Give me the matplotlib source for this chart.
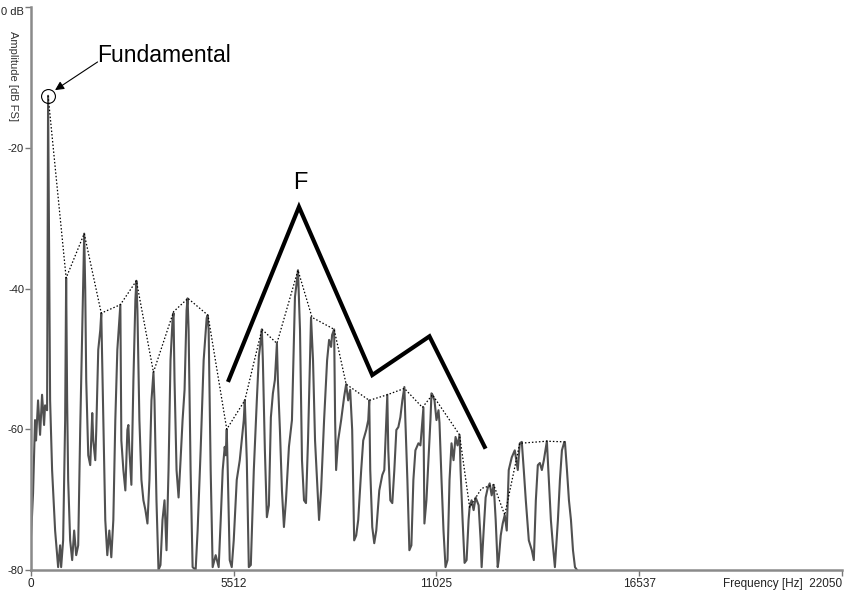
import numpy as np
import matplotlib
matplotlib.use("Agg")
import matplotlib.pyplot as plt

plt.rcParams['font.family'] = ['Liberation Sans', 'DejaVu Sans']

#%% data
# spectrum trace, frequency in Hz and level in dB
trace_hz = [0, 0, 55, 109, 136, 191, 246, 300, 355, 382, 437,
            464, 519, 573, 655, 710, 737, 791, 819, 873,
            928, 955, 982, 1010, 1064, 1119, 1173, 1228, 1283,
            1337, 1392, 1446, 1474, 1501, 1556, 1610, 1665, 1692, 1747, 1774,
            1828, 1883, 1910, 1965, 2019, 2074, 2129, 2183, 2238,
            2292, 2347, 2402, 2429, 2456, 2511, 2565, 2620, 2647, 2674, 2729,
            2784, 2838, 2865, 2893, 2947, 3002, 3056, 3111, 3166, 3220,
            3275, 3329, 3357, 3411, 3466, 3520, 3575, 3630, 3684, 3739,
            3793, 3848, 3875, 3902, 3957, 4012, 4066, 4121, 4175, 4230, 4257, 4285, 4339, 4394, 4476, 4530,
            4612, 4694, 4776, 4803, 4830, 4885, 4939, 5021, 5103, 5158,
            5212, 5267, 5294, 5322, 5349, 5403, 5458, 5512,
            5594, 5676, 5731, 5785, 5813, 5867, 5922, 5977,
            6058, 6140, 6195, 6249, 6277, 6304, 6359, 6413, 6468,
            6522, 6577, 6631, 6686, 6713, 6768, 6823, 6877, 6932,
            7013, 7095, 7177, 7232, 7259, 7314, 7368, 7423, 7477,
            7532, 7587, 7614, 7668, 7723, 7778, 7832, 7887,
            7969, 8051, 8105, 8160, 8187, 8242, 8269, 8296, 8351,
            8433, 8514, 8569, 8624, 8678, 8733, 8787, 8842, 8897,
            8978, 9033, 9115, 9170, 9197, 9224, 9279, 9333, 9388,
            9470, 9552, 9606, 9661, 9688, 9715, 9770, 9824, 9879,
            9934, 9988, 10043, 10097, 10152, 10179, 10234, 10288, 10343,
            10397, 10452, 10534, 10589, 10643, 10670, 10697, 10752, 10807, 10861,
            10889, 10916, 10971, 11025, 11080, 11107, 11162, 11216, 11271, 11325,
            11380, 11434, 11489, 11544, 11598, 11653, 11680, 11735, 11789, 11844,
            11898, 11926, 11980, 12035, 12090, 12171, 12226, 12253, 12308,
            12362, 12417, 12472, 12526, 12581, 12635, 12690, 12717,
            12772, 12826, 12881, 12936, 12990, 13072, 13154, 13236, 13290, 13345, 13399, 13454,
            13536, 13618, 13672, 13727, 13781, 13836, 13891, 13945, 14027, 14082, 14136, 14191, 14245,
            14327, 14382, 14436, 14491, 14518, 14573, 14627, 14682, 14737, 14791, 14846]
trace_db = [-80, -75.3, -69.1, -58.7, -61.6, -55.9, -60.8, -55.1, -59.4, -56.6, -57.3,
            -12.6, -55.9, -65.8, -74.4, -77.9, -79.6, -76.5, -79.6, -75.8,
            -58.7, -38.5, -55.9, -67.2, -75.8, -78.6, -74.4, -77.9, -76.5,
            -60.1, -45.9, -32.2, -40.2, -53.0, -63.7, -65.1, -57.7, -61.6, -64.4, -60.1,
            -48.7, -45.9, -43.5, -58.7, -72.9, -77.9, -74.4, -78.2, -72.9,
            -58.7, -48.7, -44.5, -42.3, -61.6, -65.8, -68.7, -60.1, -59.4, -62.9, -67.9,
            -53.0, -41.6, -38.9, -43.1, -58.7, -67.2, -70.1, -71.5, -73.4, -67.2,
            -55.9, -51.9, -55.9, -70.1, -80, -79.3, -72.9, -70.1, -77.2, -65.8,
            -50.2, -44.5, -43.5, -53.0, -65.8, -69.7, -64.4, -58.7, -54.4, -43.1, -41.4, -45.9, -65.8, -79.6, -80, -74.4,
            -63.0, -50.2, -44.2, -43.8, -45.9, -65.8, -79.6, -77.9, -79.6, -72.9,
            -65.8, -62.5, -63.7, -60.0, -65.8, -78.6, -79.6, -75.8,
            -67.2, -64.4, -61.6, -58.7, -55.9, -64.4, -79.6, -79.3,
            -65.8, -55.9, -49.7, -47.3, -45.8, -50.2, -63.0, -72.5, -70.8,
            -58.3, -54.9, -53.0, -47.8, -53.0, -60.1, -68.7, -73.9, -70.1,
            -62.5, -58.7, -41.2, -38.8, -37.4, -45.9, -64.4, -70.1, -70.5,
            -61.6, -50.2, -44.1, -50.2, -61.6, -67.2, -72.9, -68.7,
            -58.7, -50.2, -47.3, -48.3, -46.6, -45.8, -58.7, -65.8, -61.6,
            -58.7, -55.4, -53.6, -55.9, -54.4, -60.1, -75.8, -75.1, -72.9,
            -65.8, -61.6, -60.1, -58.7, -55.9, -65.8, -73.9, -76.2, -74.4,
            -68.7, -66.5, -65.8, -58.7, -55.1, -63.0, -70.1, -70.5, -65.8,
            -60.1, -59.7, -58.3, -55.9, -54.0, -58.7, -67.2, -77.2, -76.5,
            -67.2, -63.0, -62.0, -62.3, -58.7, -56.9, -73.4, -70.1, -64.4, -58.7,
            -54.9, -55.1, -55.9, -58.7, -57.3, -59.1, -67.2, -74.4, -79.6, -78.6,
            -67.2, -62.0, -64.4, -61.1, -62.3, -60.8, -65.8, -72.9, -79.0, -78.6,
            -72.9, -71.1, -70.1, -71.5, -69.7, -70.8, -75.8, -79.6, -74.4,
            -69.7, -68.4, -67.7, -69.4, -67.9, -72.9, -79.6, -78.6,
            -75.1, -73.4, -72.2, -74.4, -65.8, -64.0, -63.0, -65.8, -62.0, -61.8, -65.8, -70.1,
            -75.8, -77.2, -78.6, -70.1, -65.1, -64.8, -65.8, -64.4, -61.7, -67.2, -72.9, -76.5, -79.6,
            -72.9, -67.2, -63.0, -62.0, -61.8, -65.8, -70.1, -72.9, -77.2, -79.6, -80]

# dotted envelope through the harmonic peaks
env_hz = [464, 955, 1446, 1910, 2429, 2865, 3329, 3875, 4267, 4812, 5322, 5813,
          6277, 6686, 7259, 7641, 8242, 8569, 9197, 9688, 10152, 10643, 10916,
          11653, 11926, 12253, 12581, 12881, 13290, 14027, 14518]
env_db = [-12.6, -38.5, -32.2, -43.5, -42.3, -38.9, -51.9, -43.3, -41.4, -43.8, -60.0, -55.9,
          -45.8, -47.8, -37.4, -44.1, -45.8, -53.6, -55.9, -55.1, -54.2, -56.9, -55.1,
          -60.8, -71.1, -68.4, -67.9, -72.2, -62.0, -61.7, -61.8]

# hand drawn formant outline "F"
formant_hz = [5376, 7286, 9279, 10834, 12335]
formant_db = [-53.0, -28.4, -52.3, -46.8, -62.5]

xticks = [0, 5512, 11025, 16537, 22050]
xlabels = ['0', '5512', '11025', '16537', 'Frequency [Hz]  22050']
yticks = [0, -20, -40, -60, -80]
ylabels = ['0 dB', '-20', '-40', '-60', '-80']

#%% plot
fig = plt.figure(figsize=(8.5, 5.9), dpi=100)
ax = fig.add_axes([0.0365, 0.034, 0.954, 0.954])

ax.plot(trace_hz, trace_db, color='#505050', lw=1.5)
ax.plot(env_hz, env_db, color='black', lw=0.9, ls=(0, (1.2, 1.6)))
ax.plot(formant_hz, formant_db, color='black', lw=3.0, solid_joinstyle='miter')

# fundamental marker + label
ax.plot(env_hz[0], env_db[0], 'o', mfc='none', mec='black', ms=10, mew=0.8)
ax.annotate('', xy=(653, -11.8), xytext=(1810, -7.8),
            arrowprops=dict(arrowstyle='-|>', color='black', lw=0.8,
                            mutation_scale=13, shrinkA=0, shrinkB=0))
ax.text(1800, -6.9, 'Fundamental', fontsize=16.5, va='center', ha='left')
ax.text(7314, -25.0, 'F', fontsize=17, va='center', ha='center')

ax.set_xlim(0, 22050)
ax.set_ylim(-80, 0)
ax.set_xticks(xticks)
ax.set_xticklabels(xlabels)
ax.set_yticks(yticks)
ax.set_yticklabels(ylabels)
ax.get_xticklabels()[-1].set_horizontalalignment('right')
ax.get_xticklabels()[-1].set_x(22200)
ax.get_yticklabels()[0].set_verticalalignment('top')

for s in ['top', 'right']:
    ax.spines[s].set_visible(False)
for s in ['left', 'bottom']:
    ax.spines[s].set_color('#8a8a8a')
    ax.spines[s].set_linewidth(1.8)
ax.tick_params(length=4, width=1, color='#777777', labelsize=8.5,
               labelcolor='#222222', pad=2)
ax.tick_params(axis='y', labelsize=8, pad=1)

fig.text(0.015, 0.872, 'Amplitude [dB FS]', rotation=270, fontsize=8,
         color='#333333', ha='center', va='center')

fig.savefig('out.png', dpi=100)
